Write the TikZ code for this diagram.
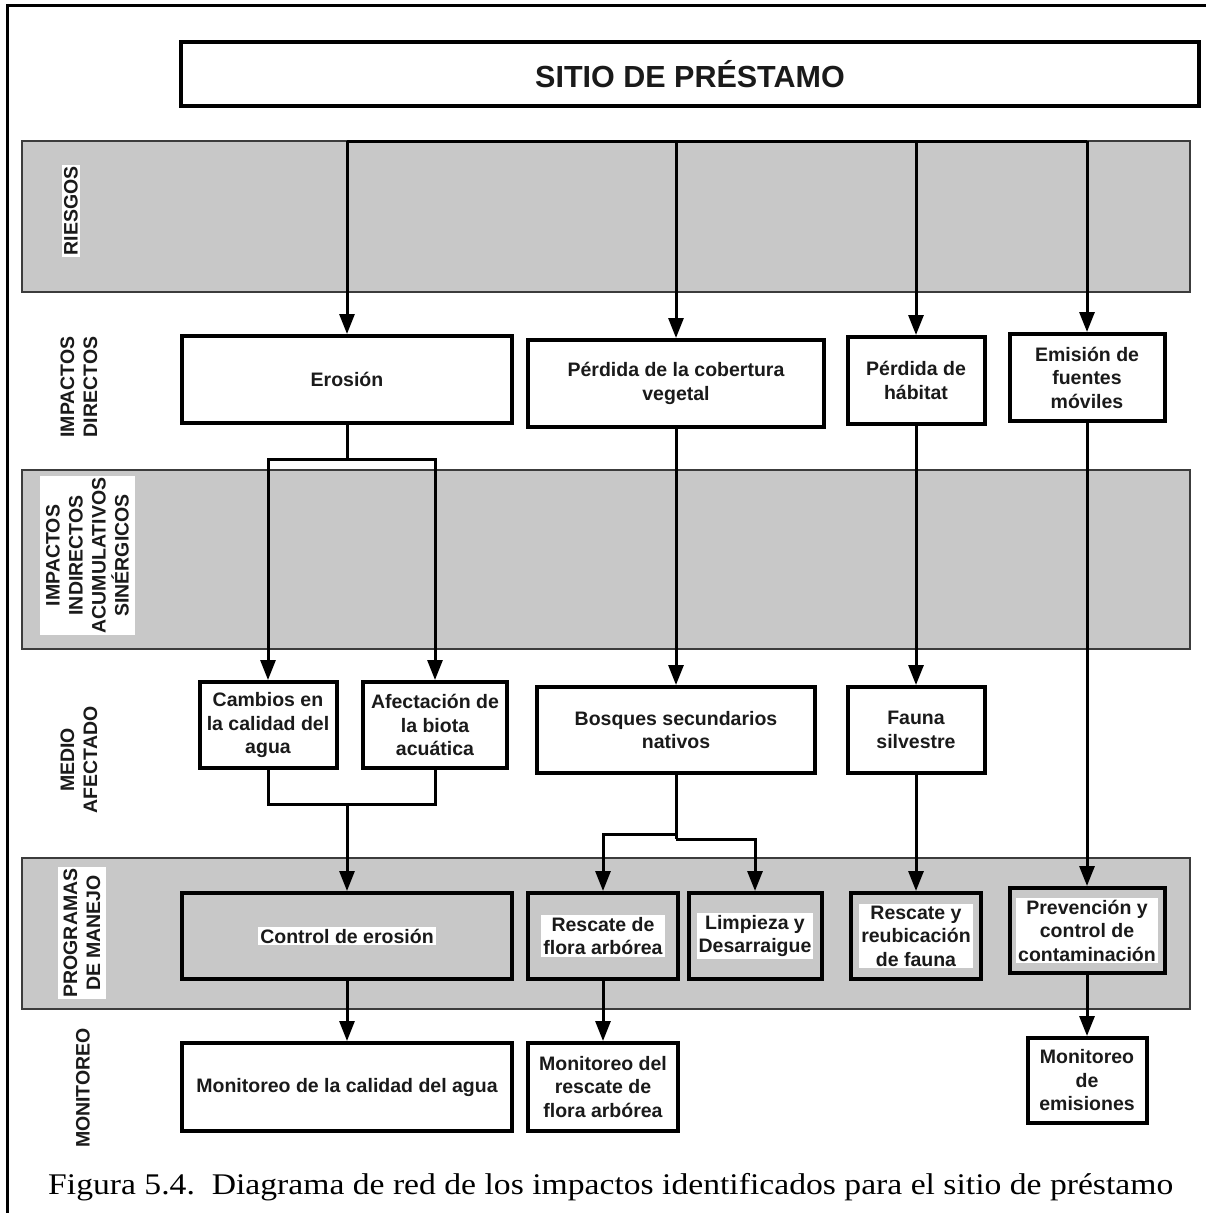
\documentclass[tikz,border=0pt]{standalone}
\usepackage{fontspec}
\setmainfont{Liberation Sans}
\newfontfamily\capfont{Liberation Serif}
\usetikzlibrary{arrows.meta}
\definecolor{bandgray}{HTML}{C8C8C8}
\definecolor{bandline}{HTML}{3C3C3C}
\definecolor{txt}{HTML}{1A1A1A}
\begin{document}
\begin{tikzpicture}[x=1pt,y=-1pt,
  box/.style={draw=black, line width=4pt, fill=white, align=center, inner sep=2pt,
    text=txt, font={\fontsize{19.5}{23.5}\selectfont\bfseries}},
  pbox/.style={box, fill=bandgray},
  wtxt/.style={fill=white, align=center, inner sep=2pt, text=txt,
    font={\fontsize{19.5}{23.5}\selectfont\bfseries}},
  band/.style={draw=bandline, line width=1.5pt, fill=bandgray, inner sep=0pt},
  side/.style={rotate=90, align=center, inner sep=2pt, text=txt,
    font={\fontsize{19.5}{23}\selectfont\bfseries}},
  conn/.style={draw=black, line width=3pt},
  arr/.style={conn, -{Triangle[length=20pt,width=15pt]}}
]
\useasboundingbox (0,0) rectangle (1206,1213);
% outer frame
\draw[line width=3pt] (7,1213) -- (7,5) -- (1206,5);

% bands
\node[band, minimum width=1168, minimum height=151] (bandR) at (606,216.5) {};
\node[band, minimum width=1168, minimum height=179] (bandI) at (606,559.5) {};
\node[band, minimum width=1168, minimum height=151] (bandP) at (606,933.5) {};

% side labels
\node[side, fill=white, minimum width=92] (lR) at (71,211) {RIESGOS};
\node[side] (lD) at (79,387) {IMPACTOS\\DIRECTOS};
\node[side, fill=white, minimum width=159, minimum height=95] (lI) at (87.5,555.5) {IMPACTOS\\INDIRECTOS\\ACUMULATIVOS\\SINÉRGICOS};
\node[side] (lM) at (79,760) {MEDIO\\AFECTADO};
\node[side, fill=white, minimum width=130, minimum height=48] (lP) at (82,933) {PROGRAMAS\\DE MANEJO};
\node[side] (lMo) at (83,1088) {MONITOREO};

% title
\node[box, line width=3.5pt, minimum width=1018, minimum height=64,
  font={\fontsize{30.5}{35}\selectfont\bfseries}] (title) at (690,74) {SITIO DE PRÉSTAMO};

% impactos directos
\node[box, minimum width=330, minimum height=87] (ero) at (347,379.5) {Erosión};
\node[box, minimum width=296, minimum height=87] (per) at (676,383.5) {Pérdida de la cobertura\\vegetal};
\node[box, minimum width=137, minimum height=87] (hab) at (916,380.5) {Pérdida de\\hábitat};
\node[box, minimum width=155, minimum height=87] (emi) at (1087,377.5) {Emisión de\\fuentes\\móviles};

% medio afectado
\node[box, minimum width=137, minimum height=86] (cam) at (268,725) {Cambios en\\la calidad del\\agua};
\node[box, minimum width=144, minimum height=86] (afe) at (435,725) {Afectación de\\la biota\\acuática};
\node[box, minimum width=278, minimum height=86] (bos) at (676,730) {Bosques secundarios\\nativos};
\node[box, minimum width=137, minimum height=86] (fau) at (916,730) {Fauna\\silvestre};

% programas de manejo
\node[pbox, minimum width=330, minimum height=86] (ctl) at (347,936) {};
\node[wtxt] (ctlT) at (ctl) {Control de erosión};
\node[pbox, minimum width=150, minimum height=86] (res) at (603,936) {};
\node[wtxt] (resT) at (res) {Rescate de\\flora arbórea};
\node[pbox, minimum width=133, minimum height=86] (lim) at (755,936) {};
\node[wtxt] (limT) at (lim) {Limpieza y\\Desarraigue};
\node[pbox, minimum width=130, minimum height=86] (reu) at (916,936) {};
\node[wtxt] (reuT) at (reu) {Rescate y\\reubicación\\de fauna};
\node[pbox, minimum width=155, minimum height=85] (pre) at (1087,930.5) {};
\node[wtxt] (preT) at (pre) {Prevención y\\control de\\contaminación};

% monitoreo
\node[box, minimum width=330, minimum height=88] (mca) at (347,1087) {Monitoreo de la calidad del agua};
\node[box, minimum width=150, minimum height=88] (mre) at (603,1087) {Monitoreo del\\rescate de\\flora arbórea};
\node[box, minimum width=119, minimum height=85] (mem) at (1087,1080.5) {Monitoreo\\de\\emisiones};

% connectors
\coordinate (bus) at (0,141);
\coordinate (s1) at (0,459);
\coordinate (s2) at (0,804);
\coordinate (s3) at (0,834);
\coordinate (s4) at (0,839);
\draw[conn] (title.south -| 689,0) -- (title.south -| 689,0 |- bus);
\draw[conn] (ero.north |- bus) -- (emi.north |- bus);
\draw[arr] (ero.north |- bus) -- (ero.north);
\draw[arr] (per.north |- bus) -- (per.north);
\draw[arr] (hab.north |- bus) -- (hab.north);
\draw[arr] (emi.north |- bus) -- (emi.north);

\draw[conn] (ero.south) -- (ero.south |- s1);
\draw[arr] (ero.south |- s1) -| (cam.north);
\draw[arr] (ero.south |- s1) -| (afe.north);

\draw[arr] (per.south) -- (bos.north);
\draw[arr] (hab.south) -- (fau.north);
\draw[arr] (emi.south) -- (pre.north);

\draw[conn] (cam.south) -- (cam.south |- s2) -- (afe.south |- s2) -- (afe.south);
\draw[arr] (ctl.north |- s2) -- (ctl.north);

\draw[conn] (bos.south) -- (bos.south |- s4);
\draw[arr] (bos.south |- s3) -| (res.north);
\draw[arr] (bos.south |- s4) -| (lim.north);

\draw[arr] (fau.south) -- (reu.north);

\draw[arr] (ctl.south) -- (mca.north);
\draw[arr] (res.south) -- (mre.north);
\draw[arr] (pre.south) -- (mem.north);

% caption
\node[anchor=base west, inner sep=0pt] (cap) at (48,1194)
  {\resizebox{1125pt}{\height}{\capfont\fontsize{30}{36}\selectfont Figura 5.4.\ \ Diagrama de red de los impactos identificados para el sitio de préstamo}};
\end{tikzpicture}
\end{document}
